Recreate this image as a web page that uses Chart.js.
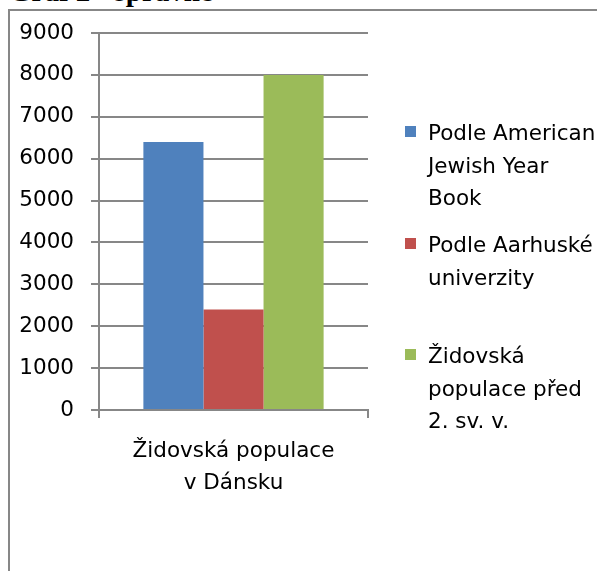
<!DOCTYPE html>
<html>
<head>
<meta charset="utf-8">
<script src="https://cdn.jsdelivr.net/npm/chart.js@4.4.0/dist/chart.umd.min.js"></script>
<style>
    body { margin: 0; background: #fff; overflow: hidden; }
    #wrap { position: relative; width: 597px; height: 571px; overflow: hidden; }
    #frame { position: absolute; left: 8px; top: 9px; width: 800px; height: 800px;
             border-left: 2px solid #878787; border-top: 2px solid #878787; }
    #title { position: absolute; left: 9px; top: -23px; font: bold 29px/29px "Liberation Serif", serif;
             color: #000; white-space: nowrap; }
    #chartBox { position: absolute; left: 0; top: 0; width: 597px; height: 571px; }
    .legend-item { position: absolute; left: 405px; font: 21.5px/32.5px "DejaVu Sans", sans-serif; color: #000; }
    .legend-item .box { position: absolute; left: 0; top: 9px; width: 11px; height: 11px; }
    .legend-item .txt { margin-left: 23px; white-space: nowrap; }
</style>
</head>
<body>
<div id="wrap">
    <div id="frame"></div>
    <div id="title">Graf 2 - správně</div>
    <div id="chartBox"><canvas id="chart" width="597" height="571"></canvas></div>
    <div id="legend"></div>
</div>
<script>
// ---- data ----
const categories = [['Židovská populace', 'v Dánsku']];
const seriesNames = [
    ['Podle American', 'Jewish Year', 'Book'],
    ['Podle Aarhuské', 'univerzity'],
    ['Židovská', 'populace před', '2. sv. v.']
];
const americanYearBook = [6400];
const aarhusUniversity = [2400];
const beforeWar = [8000];
const yTicks = [0, 1000, 2000, 3000, 4000, 5000, 6000, 7000, 8000, 9000];

const colors = ['#4F81BD', '#C0504D', '#9BBB59'];
const axisGray = '#878787';
const font = { family: "'DejaVu Sans', sans-serif", size: 21.5 };

// ---- chart ----
const ctx = document.getElementById('chart');
new Chart(ctx.getContext('2d'), {
    type: 'bar',
    data: {
        labels: categories,
        datasets: [americanYearBook, aarhusUniversity, beforeWar].map((vals, i) => ({
            label: seriesNames[i].join(' '),
            data: vals,
            backgroundColor: colors[i],
            borderWidth: 0,
            barPercentage: 1,
            categoryPercentage: 0.67
        }))
    },
    options: {
        responsive: false,
        animation: false,
        layout: { padding: { left: 0, top: 33, right: 229, bottom: 0 } },
        plugins: { legend: { display: false }, tooltip: { enabled: false } },
        scales: {
            y: {
                min: yTicks[0],
                max: yTicks[yTicks.length - 1],
                afterBuildTicks: s => { s.ticks = yTicks.map(v => ({ value: v })); },
                afterFit: s => { s.width = 99; },
                ticks: { color: '#000', font: font, padding: 17, callback: v => String(v) },
                grid: { color: axisGray, lineWidth: 2, tickLength: 8 },
                border: { color: axisGray, width: 2 }
            },
            x: {
                afterFit: s => { s.height = 161; },
                ticks: { color: '#000', font: { ...font, lineHeight: 1.5 }, padding: 17, maxRotation: 0 },
                grid: { color: axisGray, lineWidth: 2, tickLength: 8, drawOnChartArea: false, offset: true },
                border: { color: axisGray, width: 2 }
            }
        }
    }
});

// ---- legend (html) ----
const legendTops = [117, 229, 340];
const legend = document.getElementById('legend');
seriesNames.forEach((lines, i) => {
    const item = document.createElement('div');
    item.className = 'legend-item';
    item.style.top = legendTops[i] + 'px';
    item.innerHTML = `<span class="box" style="background:${colors[i]}"></span><div class="txt">${lines.join('<br>')}</div>`;
    legend.appendChild(item);
});
</script>
</body>
</html>
